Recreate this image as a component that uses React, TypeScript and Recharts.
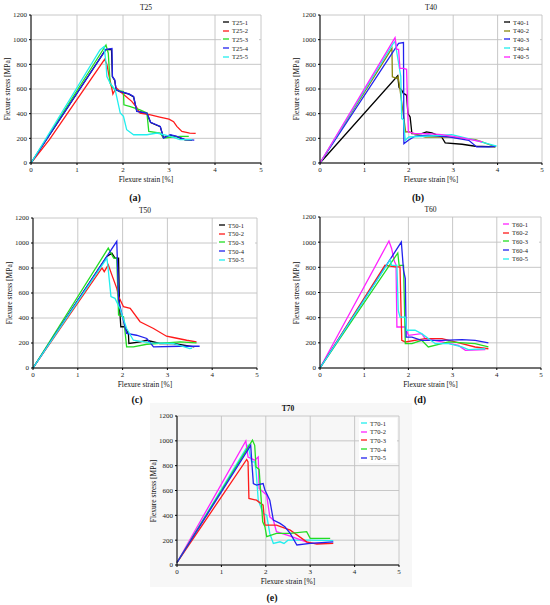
import { LineChart, Line, XAxis, YAxis, CartesianGrid, Legend } from 'recharts';

type Pt = [number, number];

const strainTicks = [0, 1, 2, 3, 4, 5];
const stressTicks = [0, 200, 400, 600, 800, 1000, 1200];

// T25
const T25_1: Pt[] = [[0, 0], [1.62, 918], [1.75, 922], [1.77, 700], [1.82, 670], [1.85, 595], [1.93, 578], [2.13, 558], [2.23, 536], [2.3, 420], [2.52, 402], [2.6, 328], [2.81, 295], [2.88, 205], [3.03, 226], [3.17, 214], [3.35, 188], [3.5, 186]];
const T25_2: Pt[] = [[0, 0], [0.4, 190], [1.6, 840], [1.65, 800], [1.7, 700], [1.76, 600], [1.78, 560], [1.85, 610], [2.0, 560], [2.19, 500], [2.3, 450], [2.37, 405], [2.6, 390], [2.8, 372], [3.0, 355], [3.1, 335], [3.17, 297], [3.28, 256], [3.45, 243], [3.58, 240]];
const T25_3: Pt[] = [[0, 0], [1.63, 957], [1.68, 890], [1.72, 647], [1.76, 620], [1.83, 593], [2.01, 580], [2.02, 472], [2.16, 458], [2.37, 431], [2.52, 405], [2.56, 256], [2.81, 243], [2.88, 202], [3.24, 216], [3.43, 216]];
const T25_4: Pt[] = [[0, 0], [1.63, 922], [1.76, 928], [1.77, 700], [1.82, 674], [1.85, 593], [1.93, 580], [2.13, 560], [2.23, 539], [2.3, 418], [2.52, 405], [2.6, 330], [2.81, 297], [2.88, 202], [3.03, 229], [3.17, 216], [3.35, 189], [3.55, 185]];
const T25_5: Pt[] = [[0, 0], [1.5, 917], [1.59, 944], [1.63, 809], [1.65, 701], [1.72, 647], [1.83, 593], [1.94, 405], [2.01, 378], [2.08, 270], [2.23, 229], [2.52, 229], [2.74, 243], [3.03, 216], [3.24, 189], [3.5, 189]];

// T40
const T40_1: Pt[] = [[0, 0], [1.75, 707], [1.78, 612], [1.84, 591], [1.88, 564], [1.95, 550], [1.98, 401], [2.03, 374], [2.07, 238], [2.29, 238], [2.4, 252], [2.52, 245], [2.74, 211], [2.82, 163], [3.2, 152], [3.5, 136], [3.95, 130]];
const T40_2: Pt[] = [[0, 0], [1.62, 930], [1.63, 699], [1.73, 686], [1.76, 700], [1.8, 600], [1.93, 252], [2.0, 255], [2.1, 240], [2.37, 211], [2.89, 211], [3.5, 190], [3.65, 171], [3.95, 130]];
const T40_3: Pt[] = [[0, 0], [1.77, 970], [1.88, 976], [1.89, 157], [1.99, 184], [2.14, 217], [2.44, 225], [2.89, 211], [3.35, 184], [3.53, 130], [3.8, 130], [3.96, 136]];
const T40_4: Pt[] = [[0, 0], [1.65, 970], [1.69, 984], [1.82, 700], [1.84, 360], [1.88, 352], [1.92, 184], [2.0, 211], [2.37, 217], [2.97, 230], [3.5, 184], [3.98, 136]];
const T40_5: Pt[] = [[0, 0], [1.69, 1016], [1.73, 921], [1.77, 921], [1.8, 767], [1.88, 767], [1.95, 760], [1.99, 252], [2.14, 238], [2.44, 238], [2.74, 230], [3.2, 203], [3.65, 171]];

// T50
const T50_1: Pt[] = [[0, 0], [1.65, 892], [1.76, 919], [1.83, 879], [1.91, 879], [1.93, 500], [1.96, 330], [2.05, 330], [2.13, 276], [2.14, 196], [2.39, 209], [2.54, 222], [2.83, 196], [3.13, 196], [3.5, 175], [3.6, 169]];
const T50_2: Pt[] = [[0, 0], [1.54, 800], [1.59, 771], [1.68, 825], [1.76, 745], [1.87, 637], [1.91, 571], [2.02, 490], [2.17, 477], [2.39, 370], [2.69, 316], [2.98, 254], [3.13, 244], [3.43, 222], [3.65, 209]];
const T50_3: Pt[] = [[0, 0], [1.68, 959], [1.8, 879], [1.87, 879], [1.91, 423], [2.02, 410], [2.09, 169], [2.24, 169], [2.54, 190], [2.98, 201], [3.28, 209], [3.65, 201]];
const T50_4: Pt[] = [[0, 0], [1.87, 1013], [1.91, 544], [1.98, 437], [2.09, 276], [2.31, 262], [2.54, 236], [2.69, 169], [3.28, 174], [3.72, 174]];
const T50_5: Pt[] = [[0, 0], [1.65, 879], [1.68, 785], [1.74, 571], [1.83, 557], [1.94, 477], [2.09, 316], [2.24, 222], [2.61, 201], [3.13, 196], [3.5, 155], [3.55, 160]];

// T60
const T60_1: Pt[] = [[0, 0], [1.56, 1009], [1.62, 950], [1.68, 850], [1.72, 820], [1.74, 326], [1.93, 326], [2.0, 260], [2.3, 273], [2.38, 233], [2.76, 207], [3.13, 180], [3.29, 140], [3.74, 146]];
const T60_2: Pt[] = [[0, 0], [1.47, 816], [1.7, 803], [1.81, 803], [1.85, 220], [1.93, 207], [2.38, 233], [2.76, 233], [3.21, 193], [3.51, 167], [3.81, 153]];
const T60_3: Pt[] = [[0, 0], [1.76, 914], [1.79, 816], [1.89, 816], [1.93, 193], [2.08, 193], [2.3, 220], [2.45, 167], [2.91, 207], [3.51, 193], [3.81, 167]];
const T60_4: Pt[] = [[0, 0], [1.84, 1001], [1.89, 776], [1.93, 710], [1.95, 246], [2.08, 246], [2.3, 220], [2.76, 220], [3.21, 225], [3.51, 220], [3.81, 199]];
const T60_5: Pt[] = [[0, 0], [1.59, 861], [1.62, 816], [1.74, 816], [1.77, 458], [1.81, 405], [1.93, 405], [1.96, 300], [2.15, 300], [2.3, 273], [2.61, 193], [2.91, 193], [3.21, 167], [3.36, 146], [3.74, 153]];

// T70
const T70_1: Pt[] = [[0, 20], [1.6, 964], [1.68, 830], [1.75, 830], [1.78, 763], [1.83, 522], [1.94, 415], [2.02, 402], [2.09, 254], [2.17, 174], [2.32, 187], [2.41, 174], [2.5, 200], [3.0, 200], [3.52, 196]];
const T70_2: Pt[] = [[0, 20], [1.55, 999], [1.6, 870], [1.75, 844], [1.83, 870], [1.85, 616], [2.02, 563], [2.09, 388], [2.17, 362], [2.24, 268], [2.55, 233], [3.0, 174], [3.3, 174]];
const T70_3: Pt[] = [[0, 20], [1.57, 850], [1.6, 830], [1.62, 536], [1.79, 522], [1.94, 482], [1.98, 321], [2.24, 321], [2.55, 281], [2.92, 187], [3.15, 169], [3.52, 174]];
const T70_4: Pt[] = [[0, 20], [1.7, 1005], [1.75, 964], [1.78, 790], [1.85, 770], [1.93, 348], [1.98, 308], [2.02, 228], [2.24, 254], [2.55, 254], [2.92, 268], [3.0, 214], [3.45, 214]];
const T70_5: Pt[] = [[0, 20], [1.66, 964], [1.69, 804], [1.72, 656], [1.79, 643], [1.94, 656], [1.98, 603], [2.09, 522], [2.17, 362], [2.32, 335], [2.43, 308], [2.55, 254], [2.7, 161], [3.0, 174], [3.52, 187]];

const FONT = '"Liberation Serif", "DejaVu Serif", serif';

type Series = { name: string; color: string; pts: Pt[] };

const toData = (pts: Pt[]) => pts.map(([x, y]) => ({ x, y }));

const LegendBox = ({ payload }: any) => (
  <div style={{ background: '#fff', padding: '1px 2px', fontFamily: FONT, fontSize: 6.5, color: '#222' }}>
    {(payload || []).map((p: any) => (
      <div key={p.value} style={{ display: 'flex', alignItems: 'center', height: 8.6 }}>
        <svg width={6} height={4} style={{ marginRight: 3 }}>
          <line x1={0} y1={2} x2={6} y2={2} stroke={p.color} strokeWidth={1.3} />
        </svg>
        <span>{p.value}</span>
      </div>
    ))}
  </div>
);

type PanelProps = {
  L: number; T: number; R: number; B: number;
  title: string; boldTitle?: boolean;
  letter: string; letterX: number; letterY: number;
  series: Series[];
};

const Panel = ({ L, T, R, B, title, boldTitle, letter, letterX, letterY, series }: PanelProps) => {
  const w = R - L + 36;
  const h = B - T + 42;
  const text = { position: 'absolute' as const, fontFamily: FONT, color: '#111', whiteSpace: 'nowrap' as const, textAlign: 'center' as const };
  return (
    <>
      <div style={{ position: 'absolute', left: L - 30, top: T - 12 }}>
        <LineChart width={w} height={h} margin={{ top: 12, right: 6, left: 0, bottom: 0 }}>
          <CartesianGrid stroke="#c2c2c2" strokeWidth={0.9} />
          <XAxis
            dataKey="x"
            type="number"
            domain={[0, 5]}
            ticks={strainTicks}
            height={30}
            tickSize={2}
            axisLine={{ stroke: '#000' }}
            tickLine={{ stroke: '#000' }}
            tick={{ fontSize: 7, fill: '#222', fontFamily: FONT }}
          />
          <YAxis
            type="number"
            domain={[0, 1200]}
            ticks={stressTicks}
            width={30}
            tickSize={2}
            axisLine={{ stroke: '#000' }}
            tickLine={{ stroke: '#000' }}
            tick={{ fontSize: 7, fill: '#222', fontFamily: FONT }}
          />
          <Legend
            layout="vertical"
            align="center"
            verticalAlign="middle"
            content={<LegendBox />}
            wrapperStyle={{ position: 'absolute', left: R - L + 30 - 40, top: 14, width: 38, height: 46 }}
          />
          {series.map((s) => (
            <Line
              key={s.name}
              data={toData(s.pts)}
              dataKey="y"
              name={s.name}
              type="linear"
              stroke={s.color}
              strokeWidth={1.3}
              dot={false}
              isAnimationActive={false}
            />
          ))}
        </LineChart>
      </div>
      <div style={{ ...text, left: (L + R) / 2 - 30, top: T - 12, width: 60, fontSize: 7.5, lineHeight: '10px', fontWeight: boldTitle ? 'bold' : 'normal' }}>{title}</div>
      <div style={{ ...text, left: (L + R) / 2 - 50, top: B + 12, width: 100, fontSize: 7.5, lineHeight: '10px' }}>Flexure strain [%]</div>
      <div style={{ ...text, left: L - 23 - 50, top: (T + B) / 2 - 5, width: 100, fontSize: 7.5, lineHeight: '10px', transform: 'rotate(-90deg)' }}>Flexure stress [MPa]</div>
      <div style={{ ...text, left: letterX - 20, top: letterY - 7, width: 40, fontSize: 10, lineHeight: '14px', fontWeight: 'bold' }}>{letter}</div>
    </>
  );
};

const BLACK = '#000000';
const RED = '#ff1a1a';
const GREEN = '#22dd22';
const BLUE = '#2222ee';
const CYAN = '#22eeee';
const MAGENTA = '#ff22ff';
const OLIVE = '#8a8a10';

export default function App() {
  return (
    <div style={{ position: 'absolute', left: 0, top: 0, width: 550, height: 605, background: '#fff', overflow: 'hidden' }}>
      <div style={{ position: 'absolute', left: 150, top: 403, width: 262, height: 184, background: '#f7f7f7' }} />
      <Panel L={31} T={15} R={261} B={163} title="T25" letter="(a)" letterX={135} letterY={198}
        series={[
          { name: 'T25-1', color: BLACK, pts: T25_1 },
          { name: 'T25-2', color: RED, pts: T25_2 },
          { name: 'T25-3', color: GREEN, pts: T25_3 },
          { name: 'T25-4', color: BLUE, pts: T25_4 },
          { name: 'T25-5', color: CYAN, pts: T25_5 },
        ]} />
      <Panel L={320} T={15} R={542} B={163} title="T40" letter="(b)" letterX={418} letterY={198}
        series={[
          { name: 'T40-1', color: BLACK, pts: T40_1 },
          { name: 'T40-2', color: OLIVE, pts: T40_2 },
          { name: 'T40-3', color: BLUE, pts: T40_3 },
          { name: 'T40-4', color: CYAN, pts: T40_4 },
          { name: 'T40-5', color: MAGENTA, pts: T40_5 },
        ]} />
      <Panel L={33} T={218} R={257} B={368} title="T50" letter="(c)" letterX={137} letterY={400}
        series={[
          { name: 'T50-1', color: BLACK, pts: T50_1 },
          { name: 'T50-2', color: RED, pts: T50_2 },
          { name: 'T50-3', color: GREEN, pts: T50_3 },
          { name: 'T50-4', color: BLUE, pts: T50_4 },
          { name: 'T50-5', color: CYAN, pts: T50_5 },
        ]} />
      <Panel L={320} T={217} R={541} B={368} title="T60" letter="(d)" letterX={420} letterY={400}
        series={[
          { name: 'T60-1', color: MAGENTA, pts: T60_1 },
          { name: 'T60-2', color: RED, pts: T60_2 },
          { name: 'T60-3', color: GREEN, pts: T60_3 },
          { name: 'T60-4', color: BLUE, pts: T60_4 },
          { name: 'T60-5', color: CYAN, pts: T60_5 },
        ]} />
      <Panel L={177} T={416} R={399} B={565} title="T70" boldTitle letter="(e)" letterX={272} letterY={598}
        series={[
          { name: 'T70-1', color: CYAN, pts: T70_1 },
          { name: 'T70-2', color: MAGENTA, pts: T70_2 },
          { name: 'T70-3', color: RED, pts: T70_3 },
          { name: 'T70-4', color: GREEN, pts: T70_4 },
          { name: 'T70-5', color: BLUE, pts: T70_5 },
        ]} />
    </div>
  );
}
